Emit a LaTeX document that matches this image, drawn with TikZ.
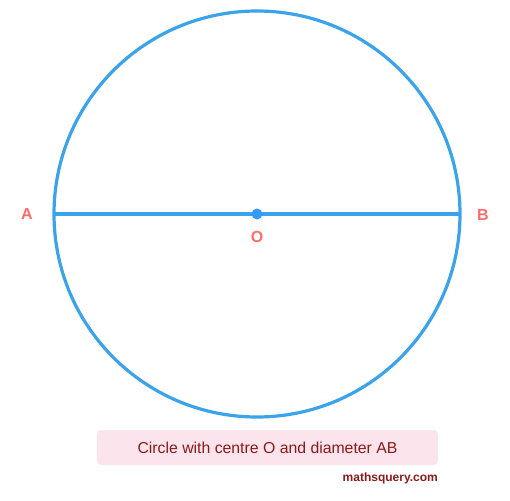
\documentclass[tikz,border=0pt]{standalone}
\usepackage{fontspec}
\setmainfont{Liberation Sans}
\definecolor{circblue}{HTML}{3BA3EA}
\definecolor{dotblue}{HTML}{3399FF}
\definecolor{labred}{HTML}{FF6B6B}
\definecolor{capfill}{HTML}{FCE4EC}
\definecolor{captext}{HTML}{8B1A1A}
\begin{document}
\begin{tikzpicture}[x=1pt,y=-1pt,
  pt/.style={font=\bfseries\fontsize{16}{18}\selectfont, text=labred, inner sep=0pt},
  shape line/.style={draw=circblue, line width=3.2pt}]
\useasboundingbox (0,0) rectangle (510,500);
\coordinate (O) at (257,214);
\draw[shape line] (O) circle (203);
\coordinate (A) at (54,214);
\coordinate (B) at (460,214);
\draw[shape line] (A) -- (B);
\fill[dotblue] (O) circle (5.5);
\node[pt] (la) at (27,214) {A};
\node[pt] (lb) at (483,215) {B};
\node[pt] (lo) at (257,237) {O};
\node[fill=capfill, rounded corners=4pt, minimum width=341, minimum height=35, inner sep=0pt,
  text=captext, font=\fontsize{15.8}{18}\selectfont] (cap) at (267.5,447.5) {Circle with centre O and diameter AB};
\node[anchor=east, text=captext, font=\bfseries\fontsize{12}{14}\selectfont, inner sep=0pt] (web) at (438,478) {mathsquery.com};
\end{tikzpicture}
\end{document}
